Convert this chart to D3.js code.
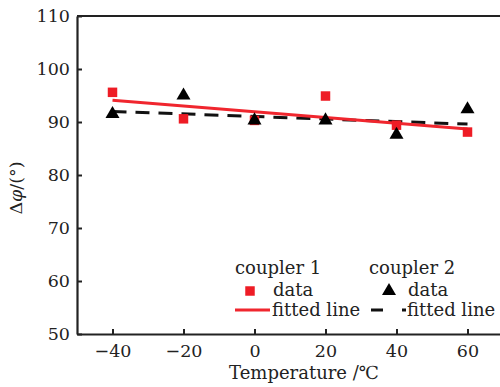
<!DOCTYPE html>
<html>
<head>
<meta charset="utf-8">
<script src="https://cdn.jsdelivr.net/npm/d3@7"></script>
<style>
  body { margin: 0; background: #fff; }
  text { font-family: "DejaVu Serif", serif; fill: #222; }
</style>
</head>
<body>
<div id="chart"></div>
<script>
// temperatures (°C)
var temps = [-40, -20, 0, 20, 40, 60];
// coupler 1 measured phase difference
var coupler1 = [95.6, 90.6, 90.3, 94.9, 89.4, 88.1];
// coupler 2 measured phase difference
var coupler2 = [91.5, 95.0, 90.3, 90.3, 87.6, 92.4];
// fitted line end points [temperature, value]
var fit1 = [[-40, 94.1], [60, 88.7]];
var fit2 = [[-40, 92.0], [60, 89.6]];
var xTicks = [-40, -20, 0, 20, 40, 60];
var yTicks = [50, 60, 70, 80, 90, 100, 110];

var width = 500, height = 387;
var margin = {top: 16, right: -3, bottom: 53, left: 77};

var svg = d3.select('#chart').append('svg')
  .attr('width', width)
  .attr('height', height);

var x = d3.scaleLinear().domain([-50, 70]).range([margin.left, width - margin.right]);
var y = d3.scaleLinear().domain([50, 110]).range([height - margin.bottom, margin.top]);

//////////// axes ////////////
var xAxis = svg.append('g')
  .attr('transform', 'translate(0,' + y(50) + ')')
  .call(d3.axisBottom(x).tickValues(xTicks).tickSizeInner(-5).tickSizeOuter(0).tickPadding(11)
    .tickFormat(function(d) { return d < 0 ? '\u2212' + Math.abs(d) : d; }));
var yAxis = svg.append('g')
  .attr('transform', 'translate(' + x(-50) + ',0)')
  .call(d3.axisLeft(y).tickValues(yTicks).tickSizeInner(-5).tickSizeOuter(0).tickPadding(7));

[xAxis, yAxis].forEach(function(a) {
  a.select('.domain').attr('stroke', '#222').attr('stroke-width', 2.2);
  a.selectAll('.tick line').attr('stroke', '#222').attr('stroke-width', 2);
  a.selectAll('.tick text').style('font-size', '17.5px').attr('fill', '#222');
});

// top frame line
svg.append('line')
  .attr('x1', x(-50)).attr('x2', width)
  .attr('y1', y(110)).attr('y2', y(110))
  .attr('stroke', '#222').attr('stroke-width', 2.2);

//////////// fitted lines ////////////
var line = d3.line().x(function(d) { return x(d[0]); }).y(function(d) { return y(d[1]); });

svg.append('path').datum(fit2)
  .attr('d', line)
  .attr('fill', 'none')
  .attr('stroke', '#111')
  .attr('stroke-width', 3)
  .attr('stroke-dasharray', '14,9');

svg.append('path').datum(fit1)
  .attr('d', line)
  .attr('fill', 'none')
  .attr('stroke', '#f0262e')
  .attr('stroke-width', 3);

//////////// data points ////////////
var sq = d3.symbol().type(d3.symbolSquare).size(90);
var tri = d3.symbol().type(d3.symbolTriangle).size(85);

svg.selectAll('.c1')
  .data(temps.map(function(t, i) { return [t, coupler1[i]]; }))
  .enter().append('path')
  .attr('class', 'c1')
  .attr('d', sq)
  .attr('transform', function(d) { return 'translate(' + x(d[0]) + ',' + y(d[1]) + ')'; })
  .attr('fill', '#ee1c25');

svg.selectAll('.c2')
  .data(temps.map(function(t, i) { return [t, coupler2[i]]; }))
  .enter().append('path')
  .attr('class', 'c2')
  .attr('d', tri)
  .attr('transform', function(d) { return 'translate(' + x(d[0]) + ',' + y(d[1]) + ')'; })
  .attr('fill', '#000');

//////////// legend ////////////
var lg = svg.append('g').style('font-size', '18px');
lg.append('text').attr('x', 235).attr('y', 274).text('coupler 1');
lg.append('text').attr('x', 369).attr('y', 274).text('coupler 2');
lg.append('path').attr('d', sq).attr('transform', 'translate(250,291)').attr('fill', '#ee1c25');
lg.append('text').attr('x', 273).attr('y', 296).text('data');
lg.append('path').attr('d', tri).attr('transform', 'translate(389,291)').attr('fill', '#000');
lg.append('text').attr('x', 408).attr('y', 296).text('data');
lg.append('line').attr('x1', 235).attr('x2', 270).attr('y1', 310).attr('y2', 310)
  .attr('stroke', '#f0262e').attr('stroke-width', 3);
lg.append('text').attr('x', 272).attr('y', 316).text('fitted line');
lg.append('line').attr('x1', 371).attr('x2', 406).attr('y1', 310).attr('y2', 310)
  .attr('stroke', '#111').attr('stroke-width', 3).attr('stroke-dasharray', '12,19');
lg.append('text').attr('x', 407).attr('y', 316).text('fitted line');

//////////// axis titles ////////////
svg.append('text')
  .attr('x', 304).attr('y', 379)
  .attr('text-anchor', 'middle')
  .style('font-size', '18px')
  .text('Temperature /\u2103');

var yl = svg.append('text')
  .attr('transform', 'translate(22,188) rotate(-90)')
  .attr('text-anchor', 'middle')
  .style('font-size', '17.5px');
yl.append('tspan').text('\u0394');
yl.append('tspan').style('font-style', 'italic').text('\u03c6');
yl.append('tspan').text('/(\u00b0)');
</script>
</body>
</html>
